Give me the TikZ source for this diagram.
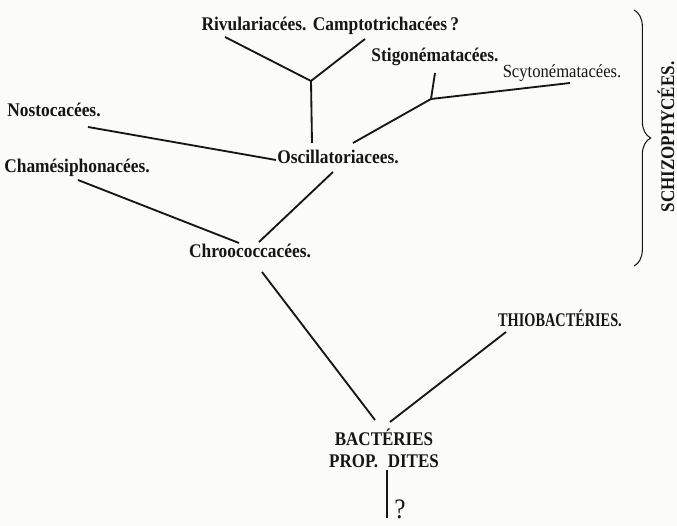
\documentclass[tikz,border=0pt]{standalone}
\usepackage{fontspec}
\setmainfont{Liberation Serif}
\newfontfamily\taxfont[FakeStretch=0.9]{Liberation Serif}
\newfontfamily\capfont[FakeStretch=0.74]{Liberation Serif}
\newfontfamily\widecapfont[FakeStretch=0.88]{Liberation Serif}
\usepackage{tikz}
\usetikzlibrary{calc,decorations.pathreplacing}
\definecolor{PlateInk}{HTML}{161616}
\definecolor{PlatePaper}{HTML}{FBFBFA}

\begin{document}
\begin{tikzpicture}[x=0.02cm,y=-0.02cm,
  taxon/.style={anchor=base,inner sep=0pt,text=PlateInk,font=\taxfont\fontsize{11}{13}\selectfont\bfseries},
  group/.style={inner sep=0pt,text=PlateInk,font=\widecapfont\fontsize{11}{12.5}\selectfont\bfseries},
  branch/.style={draw=PlateInk,line width=1.05pt}]
\fill[PlatePaper] (0,0) rectangle (677,526);
\useasboundingbox (0,0) rectangle (677,526);
% taxa
\node[taxon] (riv) at (254,31) {Rivulariacées.};
\node[taxon] (camp) at (386,31) {Camptotrichacées\,?};
\node[taxon] (sti) at (435,62) {Stigonématacées.};
\node[taxon,font=\taxfont\fontsize{10.5}{12}\selectfont] (scy) at (562,78) {Scytonématacées.};
\node[taxon] (nos) at (54,117) {Nostocacées.};
\node[taxon] (osc) at (338,164) {Oscillatoriacees.};
\node[taxon] (cham) at (77,173) {Chamésiphonacées.};
\node[taxon] (chro) at (250,258) {Chroococcacées.};
\node[taxon,font=\capfont\fontsize{11}{13}\selectfont\bfseries] (thio) at (560,327) {THIOBACTÉRIES.};
\node[group,align=center] (bact) at (384,448) {BACTÉRIES\\PROP.\enspace DITES};
\node[group,rotate=90] (schizo) at (666,137) {SCHIZOPHYCÉES.};
\node[taxon,font=\taxfont\fontsize{16}{18}\selectfont] (qmark) at (400,519) {?};
% junctions
\coordinate (jRiv) at (311,81);
\coordinate (jSti) at (431,99);
\coordinate (stemEnd) at (387,518);
% branches
\draw[branch] ($(riv.base)+(-29,6)$) -- (jRiv);
\draw[branch] ($(camp.base)+(-21,8)$) -- (jRiv);
\draw[branch] (jRiv) -- ($(osc.base)+(-26,-21)$);
\draw[branch] ($(sti.base)+(0,11)$) -- (jSti);
\draw[branch] ($(scy.base)+(8,5)$) -- (jSti);
\draw[branch] (jSti) -- ($(osc.base)+(15,-21)$);
\draw[branch] ($(nos.base)+(34,10)$) -- ($(osc.base)+(-62,-4)$);
\draw[branch] ($(cham.base)+(1,7)$) -- ($(chro.base)+(-11,-15)$);
\draw[branch] ($(osc.base)+(-5,8)$) -- ($(chro.base)+(9,-16)$);
\draw[branch] ($(chro.base)+(12,14)$) -- ($(bact.center)+(-9,-28)$);
\draw[branch] ($(thio.base)+(-54,5)$) -- ($(bact.center)+(6,-26)$);
\draw[branch] ($(bact.center)+(3,22)$) -- (stemEnd);
% brace round the Schizophycees
\coordinate (braceTop) at (634,10);
\coordinate (braceBot) at (634,266);
\draw[PlateInk,line width=0.6pt,decorate,decoration={brace,amplitude=9.5pt}] (braceTop) -- (braceBot);
\end{tikzpicture}
\end{document}
